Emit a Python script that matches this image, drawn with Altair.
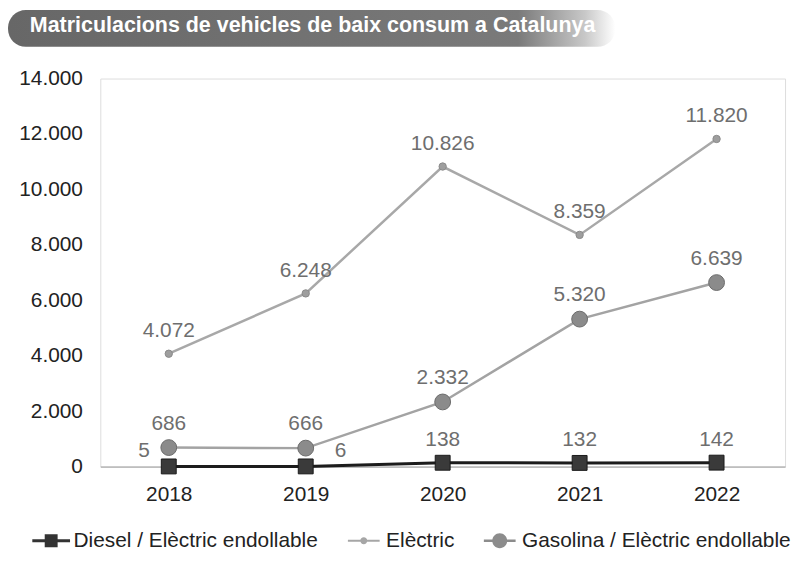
import altair as alt
import pandas as pd

# ---------------- data ----------------
years = ["2018", "2019", "2020", "2021", "2022"]
diesel = [5, 6, 138, 132, 142]
electric = [4072, 6248, 10826, 8359, 11820]
gasoline = [686, 666, 2332, 5320, 6639]
series_names = ["Diesel / Elèctric endollable", "Elèctric", "Gasolina / Elèctric endollable"]
y_ticks = [0, 2000, 4000, 6000, 8000, 10000, 12000, 14000]
title_text = "Matriculacions de vehicles de baix consum a Catalunya"

rows = []
for name, vals in zip(series_names, [diesel, electric, gasoline]):
    for yr, v in zip(years, vals):
        rows.append({"year": yr, "series": name, "value": v})
df = pd.DataFrame(rows)

FONT = "Liberation Sans"
FMT = "replace(format(datum.value, ','), ',', '.')"

x_enc = alt.X(
    "year:N",
    sort=years,
    scale=alt.Scale(type="point", padding=0.5),
    axis=alt.Axis(
        title=None, labelAngle=0, labelFontSize=21, labelColor="#222222",
        labelPadding=17, ticks=False, domainColor="#9a9a9a", domainWidth=1,
        grid=False, labelFont=FONT,
    ),
)
y_enc = alt.Y(
    "value:Q",
    scale=alt.Scale(domain=[0, 14000], nice=False, zero=True),
    axis=alt.Axis(
        title=None, values=y_ticks, labelExpr=FMT, labelFontSize=21,
        labelColor="#222222", labelPadding=18, ticks=False, domain=False,
        grid=False, labelFont=FONT,
    ),
)

base = alt.Chart(df).transform_calculate(label=FMT)

styles = {
    "Elèctric": dict(line="#a8a8a8", lw=2.5, shape="circle", size=55,
                     fill="#9e9e9e", stroke="#8a8a8a", dy=-23),
    "Gasolina / Elèctric endollable": dict(line="#a3a3a3", lw=2.5, shape="circle", size=254,
                                           fill="#8b8b8b", stroke="#6c6c6c", dy=-24),
    "Diesel / Elèctric endollable": dict(line="#1c1c1c", lw=3, shape="square", size=225,
                                         fill="#3a3a3a", stroke="#1a1a1a", dy=-23),
}

layers = []

# title bar
title_df = pd.DataFrame({"t": [title_text]})
grad = alt.LinearGradient(
    gradient="linear",
    stops=[
        alt.GradientStop(color="#676767", offset=0),
        alt.GradientStop(color="#7a7a7a", offset=0.84),
        alt.GradientStop(color="#c8c8c8", offset=0.95),
        alt.GradientStop(color="#ffffff", offset=1),
    ],
    x1=0, x2=1, y1=0, y2=0,
)
layers.append(
    alt.Chart(title_df).mark_rect(color=grad, cornerRadius=18).encode(
        x=alt.value(-93), x2=alt.value(519), y=alt.value(-69), y2=alt.value(-32)
    )
)
layers.append(
    alt.Chart(title_df).mark_text(
        align="left", baseline="middle", fontSize=21.6, fontWeight="bold",
        color="white", font=FONT,
    ).encode(x=alt.value(-71), y=alt.value(-53), text="t:N")
)

for name in ["Elèctric", "Gasolina / Elèctric endollable", "Diesel / Elèctric endollable"]:
    st = styles[name]
    sub = base.transform_filter(alt.datum.series == name)
    layers.append(
        sub.mark_line(color=st["line"], strokeWidth=st["lw"]).encode(x=x_enc, y=y_enc)
    )
    layers.append(
        sub.mark_point(
            shape=st["shape"], size=st["size"], filled=True, fill=st["fill"],
            stroke=st["stroke"], strokeWidth=1, opacity=1,
        ).encode(x=x_enc, y=y_enc)
    )

for name in ["Elèctric", "Gasolina / Elèctric endollable"]:
    st = styles[name]
    layers.append(
        base.transform_filter(alt.datum.series == name).mark_text(
            fontSize=21, color="#6e6e6e", baseline="middle", dy=st["dy"], font=FONT,
        ).encode(x=x_enc, y=y_enc, text="label:N")
    )

dname = "Diesel / Elèctric endollable"
dsub = base.transform_filter(alt.datum.series == dname)
layers.append(
    dsub.transform_filter(alt.datum.year == "2018").mark_text(
        fontSize=21, color="#6e6e6e", baseline="middle", dx=-25, dy=-16, font=FONT
    ).encode(x=x_enc, y=y_enc, text="label:N")
)
layers.append(
    dsub.transform_filter(alt.datum.year == "2019").mark_text(
        fontSize=21, color="#6e6e6e", baseline="middle", dx=35, dy=-15, font=FONT
    ).encode(x=x_enc, y=y_enc, text="label:N")
)
layers.append(
    dsub.transform_filter(
        (alt.datum.year != "2018") & (alt.datum.year != "2019")
    ).mark_text(
        fontSize=21, color="#6e6e6e", baseline="middle", dy=-23, font=FONT
    ).encode(x=x_enc, y=y_enc, text="label:N")
)

# legend carrier (marks kept off-canvas, only the legend is visible)
legend_paths = [
    "M-1.9,-0.15H1.9V0.15H-1.9Z M-0.65,-0.65H0.65V0.65H-0.65Z",
    "M-1.6,-0.1H1.6V0.1H-1.6Z M-0.35,0A0.35,0.35 0 1,1 0.35,0A0.35,0.35 0 1,1 -0.35,0Z",
    "M-1.6,-0.12H1.6V0.12H-1.6Z M-0.75,0A0.75,0.75 0 1,1 0.75,0A0.75,0.75 0 1,1 -0.75,0Z",
]
legend_colors = ["#333333", "#a6a6a6", "#8c8c8c"]
leg = alt.Legend(
    title=None, orient="none", legendX=-60, legendY=455, direction="horizontal",
    symbolSize=400, symbolStrokeWidth=0, symbolOpacity=1, labelFontSize=21,
    labelFont=FONT, labelColor="#222222", labelOffset=12, labelLimit=400,
    columnPadding=29, padding=0,
)
layers.append(
    alt.Chart(df).mark_point(filled=True, clip=True, opacity=1).encode(
        x=x_enc,
        y=alt.value(-3000),
        color=alt.Color("series:N", scale=alt.Scale(domain=series_names, range=legend_colors), legend=leg),
        shape=alt.Shape("series:N", scale=alt.Scale(domain=series_names, range=legend_paths), legend=leg),
    )
)

chart = alt.layer(*layers).properties(
    width=690,
    height=391,
    padding={"left": 93, "top": 69, "right": 7, "bottom": 86},
    autosize=alt.AutoSizeParams(type="none"),
    background="white",
).configure_view(stroke=None).configure(font=FONT)

chart.save("out.html", embed_options={"renderer": "svg", "actions": False})
